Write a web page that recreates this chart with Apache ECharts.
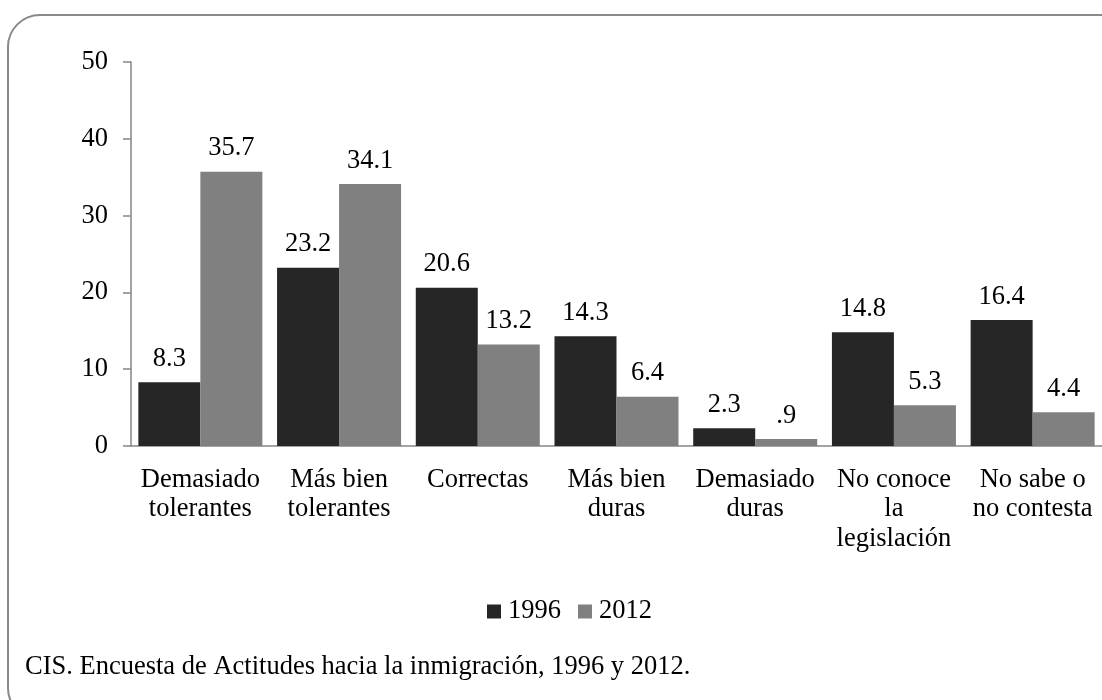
<!DOCTYPE html>
<html><head><meta charset="utf-8">
<script src="https://cdn.jsdelivr.net/npm/echarts@6/dist/echarts.min.js"></script>
<style>html,body{margin:0;padding:0;background:#fff}#c{width:1102px;height:700px}</style>
</head><body><div id="c"></div>
<script>
const categories = ['Demasiado\ntolerantes', 'Más bien\ntolerantes', 'Correctas', 'Más bien\nduras', 'Demasiado\nduras', 'No conoce\nla\nlegislación', 'No sabe o\nno contesta'];
const values1996 = [8.3, 23.2, 20.6, 14.3, 2.3, 14.8, 16.4];
const values2012 = [35.7, 34.1, 13.2, 6.4, 0.9, 5.3, 4.4];
const seriesNames = ['1996', '2012'];
const sourceText = 'CIS. Encuesta de Actitudes hacia la inmigración, 1996 y 2012.';

const FONT = 'Liberation Serif';
const FS = 26.5;
const fmt = p => p.value.toFixed(1).replace(/^0\./, '.');
const chart = echarts.init(document.getElementById('c'));
chart.setOption({
  animation: false,
  textStyle: {fontFamily: FONT},
  grid: {left: 131, right: 0, top: 62, bottom: 254, containLabel: false},
  legend: {
    left: 487, top: 598, padding: 0, itemWidth: 14, itemHeight: 14, itemGap: 17,
    icon: 'rect',
    textStyle: {fontFamily: FONT, fontSize: FS, color: '#000', padding: [0, 0, 0, 2]},
    data: seriesNames
  },
  xAxis: {
    type: 'category', data: categories,
    axisLine: {lineStyle: {color: '#868686', width: 1.5}},
    axisTick: {show: false},
    axisLabel: {fontFamily: FONT, fontSize: FS, color: '#000', margin: 19, lineHeight: 29.5, interval: 0}
  },
  yAxis: {
    type: 'value', min: 0, max: 50, interval: 10,
    axisLine: {show: true, lineStyle: {color: '#868686', width: 1.5}},
    axisTick: {show: true, length: 8, lineStyle: {color: '#868686', width: 1.5}},
    splitLine: {show: false},
    axisLabel: {fontFamily: FONT, fontSize: FS, color: '#000', margin: 23}
  },
  series: [
    {name: seriesNames[0], type: 'bar', data: values1996, barGap: '0%', barCategoryGap: '10.6%',
     itemStyle: {color: '#262626'},
     label: {show: true, position: 'top', distance: 10, formatter: fmt, fontFamily: FONT, fontSize: FS, color: '#000'}},
    {name: seriesNames[1], type: 'bar', data: values2012, barGap: '0%', barCategoryGap: '10.6%',
     itemStyle: {color: '#808080'},
     label: {show: true, position: 'top', distance: 10, formatter: fmt, fontFamily: FONT, fontSize: FS, color: '#000'}}
  ],
  graphic: [
    {type: 'rect', z: -1, shape: {x: 8, y: 15, width: 1130, height: 705, r: 32},
     style: {fill: 'none', stroke: '#8a8a8a', lineWidth: 2}},
    {type: 'text', left: 25, top: 654, style: {text: sourceText, font: FS + 'px "' + FONT + '"', fill: '#000'}}
  ]
});
</script></body></html>
